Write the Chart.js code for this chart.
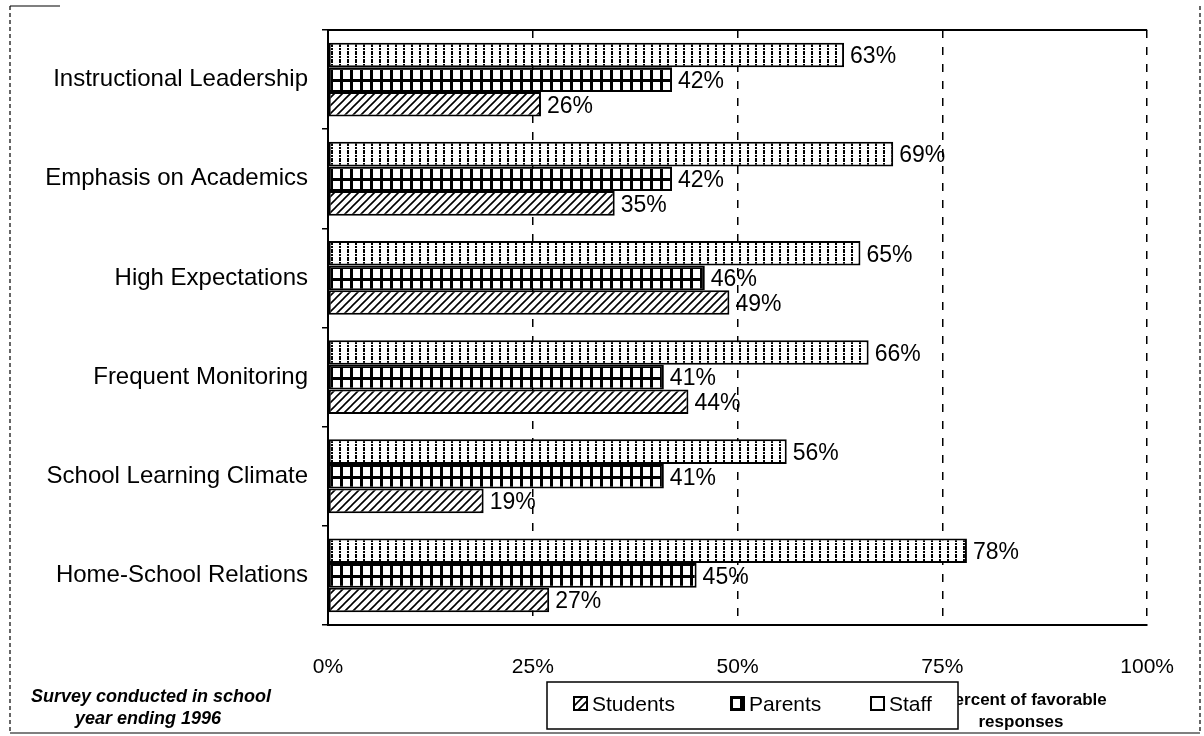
<!DOCTYPE html>
<html>
<head>
<meta charset="utf-8">
<script src="https://cdn.jsdelivr.net/npm/chart.js@4.4.1/dist/chart.umd.min.js"></script>
<style>
  html, body { margin: 0; padding: 0; background: #fff; }
  #wrap { width: 1204px; height: 736px; }
</style>
</head>
<body>
<div id="wrap"><canvas id="chart" width="1204" height="736"></canvas></div>
<script>
const categories = ['Instructional Leadership', 'Emphasis on Academics', 'High Expectations',
                    'Frequent Monitoring', 'School Learning Climate', 'Home-School Relations'];
const staff    = [63, 69, 65, 66, 56, 78];
const parents  = [42, 42, 46, 41, 41, 45];
const students = [26, 35, 49, 44, 19, 27];
const xTicks   = [0, 25, 50, 75, 100];
const legendNames = ['Students', 'Parents', 'Staff'];

const FONT = "'Liberation Sans', Arial, sans-serif";
Chart.defaults.font.family = FONT;
Chart.defaults.color = '#000';

const CAT_PCT = 0.745;

// little canvases used as fill patterns
function tile(w, h, draw) {
    const c = document.createElement('canvas');
    c.width = w; c.height = h;
    const g = c.getContext('2d');
    g.fillStyle = '#fff';
    g.fillRect(0, 0, w, h);
    g.fillStyle = '#000';
    g.strokeStyle = '#000';
    draw(g);
    return c;
}

const staffTile = tile(8, 8, g => {
    g.fillRect(3, 0, 2, 4);
    g.fillRect(3, 5, 2, 2);
});
const parentsTile = tile(10, 12, g => {
    g.fillRect(0, 0, 10, 12);
    g.fillStyle = '#fff';
    g.fillRect(3, 3, 7, 9);
});
const studentsTile = tile(8, 8, g => {
    g.lineWidth = 1.6;
    g.beginPath();
    g.moveTo(-1, 9); g.lineTo(9, -1);
    g.moveTo(-1, 1); g.lineTo(1, -1);
    g.moveTo(7, 9); g.lineTo(9, 7);
    g.stroke();
});

// pattern lined up with the top of each bar
function barPattern(tileCanvas, slot) {
    return (c) => {
        const chart = c.chart;
        const p = chart.ctx.createPattern(tileCanvas, 'repeat');
        const ys = chart.scales.y;
        if (c.type === 'data' && ys) {
            const band = (ys.bottom - ys.top) / categories.length;
            const center = ys.getPixelForValue(c.dataIndex);
            const top = center - band * CAT_PCT / 2 + slot * band * CAT_PCT / 3;
            p.setTransform(new DOMMatrix().translate(0, Math.round(top)));
        }
        return p;
    };
}

const valueLabels = {
    id: 'valueLabels',
    afterDatasetsDraw(chart) {
        const ctx = chart.ctx;
        ctx.save();
        ctx.font = '23px ' + FONT;
        ctx.fillStyle = '#000';
        ctx.textBaseline = 'middle';
        chart.data.datasets.forEach((ds, i) => {
            chart.getDatasetMeta(i).data.forEach((bar, j) => {
                ctx.fillText(ds.data[j] + '%', bar.x + 6, bar.y + 2);
            });
        });
        ctx.restore();
    }
};

function icon(ctx, x, y, pat) {
    ctx.fillStyle = pat;
    ctx.fillRect(x, y, 13, 13);
    ctx.lineWidth = 2;
    ctx.strokeStyle = '#000';
    ctx.strokeRect(x, y, 13, 13);
}

const extras = {
    id: 'extras',
    afterDraw(chart) {
        const ctx = chart.ctx;
        const a = chart.chartArea;
        ctx.save();
        // top edge of the plot
        ctx.strokeStyle = '#000';
        ctx.lineWidth = 2;
        ctx.beginPath();
        ctx.moveTo(a.left, a.top); ctx.lineTo(a.right, a.top);
        ctx.stroke();

        // outer frame
        ctx.lineWidth = 1.2;
        ctx.setLineDash([4, 3]);
        ctx.beginPath();
        ctx.moveTo(10, 6); ctx.lineTo(10, 732);
        ctx.moveTo(1200, 6); ctx.lineTo(1200, 732);
        ctx.stroke();
        ctx.setLineDash([]);
        ctx.beginPath();
        ctx.moveTo(10, 6); ctx.lineTo(60, 6);
        ctx.moveTo(10, 733); ctx.lineTo(1200, 733);
        ctx.stroke();

        // note
        ctx.fillStyle = '#000';
        ctx.textAlign = 'center';
        ctx.textBaseline = 'middle';
        ctx.font = 'italic bold 18px ' + FONT;
        ctx.fillText('Survey conducted in school', 151, 697);
        ctx.fillText('year ending 1996', 148, 719);

        // axis title (partly hidden by the legend)
        ctx.font = 'bold 17px ' + FONT;
        ctx.fillText('Percent of favorable', 1025, 700);
        ctx.fillText('responses', 1021, 722);

        // legend
        ctx.fillStyle = '#fff';
        ctx.fillRect(547, 682, 411, 47);
        ctx.lineWidth = 1.5;
        ctx.strokeRect(547, 682, 411, 47);
        const pats = [ctx.createPattern(studentsTile, 'repeat'),
                      ctx.createPattern(parentsTile, 'repeat'), '#fff'];
        const iconX = [574, 731, 871];
        ctx.textAlign = 'left';
        ctx.font = '21px ' + FONT;
        legendNames.forEach((name, i) => {
            icon(ctx, iconX[i], 697, pats[i]);
            ctx.fillStyle = '#000';
            ctx.fillText(name, iconX[i] + 18, 705);
        });
        ctx.restore();
    }
};

new Chart(document.getElementById('chart'), {
    type: 'bar',
    data: {
        labels: categories,
        datasets: [
            { label: 'Staff', data: staff, backgroundColor: barPattern(staffTile, 0) },
            { label: 'Parents', data: parents, backgroundColor: barPattern(parentsTile, 1) },
            { label: 'Students', data: students, backgroundColor: barPattern(studentsTile, 2) },
        ].map(d => Object.assign(d, {
            borderColor: '#000',
            borderWidth: 2,
            borderSkipped: false,
            categoryPercentage: CAT_PCT,
            barPercentage: 1,
        })),
    },
    options: {
        indexAxis: 'y',
        responsive: false,
        animation: false,
        devicePixelRatio: 1,
        layout: { padding: { top: 30, right: 54, left: 0, bottom: 0 } },
        plugins: {
            legend: { display: false },
            tooltip: { enabled: false },
        },
        scales: {
            x: {
                min: 0,
                max: 100,
                afterBuildTicks: s => { s.ticks = xTicks.map(v => ({ value: v })); },
                afterFit: s => { s.height = 111; },
                ticks: {
                    callback: v => v + '%',
                    font: { size: 21 },
                    padding: 30,
                    maxRotation: 0,
                },
                grid: {
                    drawTicks: false,
                    lineWidth: 1.5,
                    color: c => (c.tick && c.tick.value === 0) ? 'rgba(0,0,0,0)' : '#000',
                },
                border: { display: true, color: '#000', width: 2, dash: [8, 9] },
            },
            y: {
                afterFit: s => { s.width = 328; },
                ticks: { font: { size: 24 }, padding: 14 },
                grid: {
                    offset: true,
                    drawOnChartArea: false,
                    drawTicks: true,
                    tickLength: 6,
                    color: '#000',
                    lineWidth: 1.5,
                },
                border: { display: true, color: '#000', width: 2 },
            },
        },
    },
    plugins: [valueLabels, extras],
});
</script>
</body>
</html>
